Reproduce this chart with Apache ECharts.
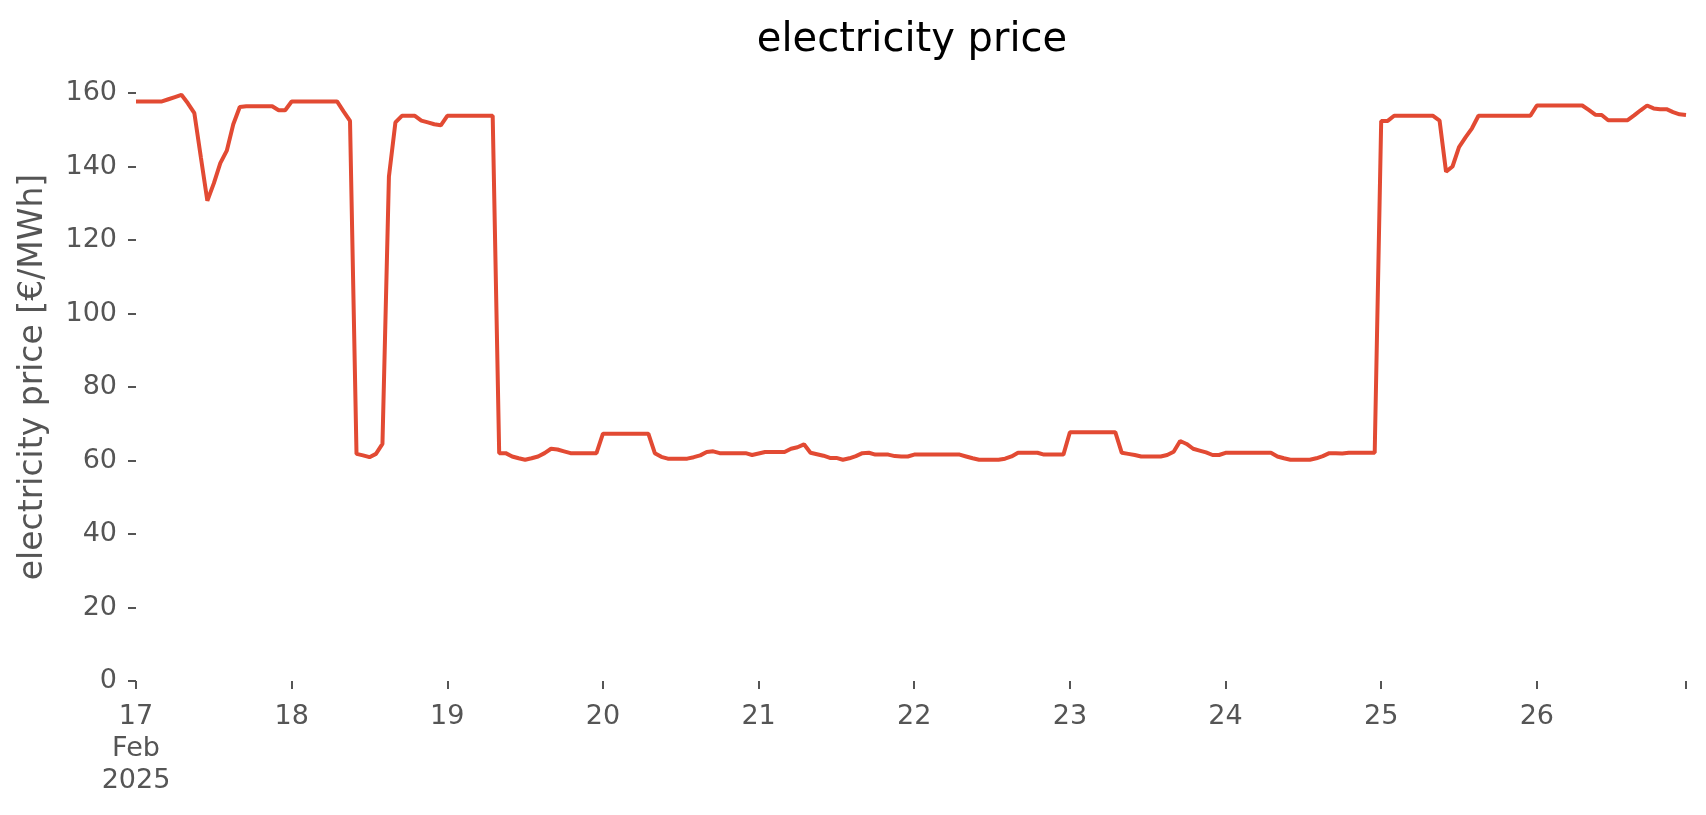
<!DOCTYPE html>
<html>
<head>
<meta charset="utf-8">
<script src="https://cdn.jsdelivr.net/npm/echarts@6/dist/echarts.min.js"></script>
<style>
  html, body { margin: 0; padding: 0; background: #ffffff; }
  #chart { width: 1706px; height: 815px; }
</style>
</head>
<body>
<div id="chart"></div>
<script>
// Hourly electricity price [€/MWh], 17 Feb 2025 00:00 to 26 Feb 2025 23:00
const dayLabels = ['17\nFeb\n2025', '18', '19', '20', '21', '22', '23', '24', '25', '26'];
const feb17 = [157.7,157.7,157.7,157.7,157.7,158.3,158.9,159.5,157.2,154.5,142.5,130.7,135.4,140.9,144.3,151.5,156.2,156.4,156.4,156.4,156.4,156.4,155.3,155.3];
const feb18 = [157.7,157.7,157.7,157.7,157.7,157.7,157.7,157.7,155.0,152.4,61.8,61.4,60.9,61.8,64.5,137.3,152.0,153.8,153.8,153.8,152.5,152.0,151.5,151.2];
const feb19 = [153.8,153.8,153.8,153.8,153.8,153.8,153.8,153.8,62.0,62.0,61.1,60.6,60.2,60.6,61.1,62.0,63.2,63.0,62.5,62.0,62.0,62.0,62.0,62.0];
const feb20 = [67.3,67.3,67.3,67.3,67.3,67.3,67.3,67.3,62.0,61.0,60.5,60.5,60.5,60.5,60.9,61.4,62.3,62.5,62.0,62.0,62.0,62.0,62.0,61.5];
const feb21 = [61.9,62.3,62.3,62.3,62.3,63.2,63.6,64.4,62.1,61.7,61.3,60.7,60.7,60.2,60.6,61.2,62.0,62.1,61.6,61.6,61.6,61.2,61.1,61.1];
const feb22 = [61.6,61.6,61.6,61.6,61.6,61.6,61.6,61.6,61.1,60.6,60.2,60.2,60.2,60.2,60.5,61.1,62.1,62.1,62.1,62.1,61.6,61.6,61.6,61.6];
const feb23 = [67.7,67.7,67.7,67.7,67.7,67.7,67.7,67.7,62.1,61.8,61.5,61.1,61.1,61.1,61.1,61.5,62.4,65.3,64.5,63.2,62.7,62.2,61.5,61.5];
const feb24 = [62.1,62.1,62.1,62.1,62.1,62.1,62.1,62.1,61.1,60.6,60.2,60.2,60.2,60.2,60.6,61.2,62.0,62.0,61.9,62.1,62.1,62.1,62.1,62.1];
const feb25 = [152.4,152.4,153.8,153.8,153.8,153.8,153.8,153.8,153.8,152.5,138.6,140.0,145.3,147.9,150.4,153.8,153.8,153.8,153.8,153.8,153.8,153.8,153.8,153.8];
const feb26 = [156.6,156.6,156.6,156.6,156.6,156.6,156.6,156.6,155.4,154.1,154.0,152.6,152.6,152.6,152.6,153.9,155.3,156.6,155.8,155.6,155.6,154.8,154.2,154.0];

const days = [feb17, feb18, feb19, feb20, feb21, feb22, feb23, feb24, feb25, feb26];
const seriesData = [];
days.forEach((vals, d) => {
  vals.forEach((v, h) => { seriesData.push([d * 24 + h, v]); });
});
const lastHour = seriesData.length - 1;

const chart = echarts.init(document.getElementById('chart'), null, { renderer: 'canvas' });
const FONT = 'DejaVu Sans';
chart.setOption({
  backgroundColor: '#ffffff',
  animation: false,
  title: {
    text: 'electricity price',
    left: 907,
    textAlign: 'center',
    top: 16,
    textStyle: { fontFamily: FONT, fontSize: 40, fontWeight: 'normal', color: '#000000' }
  },
  grid: { left: 136, right: 20, top: 93, bottom: 134, containLabel: false },
  xAxis: {
    type: 'value',
    min: 0,
    max: lastHour,
    interval: 24,
    axisLine: { show: false },
    splitLine: { show: false },
    axisTick: { show: true, length: 8, lineStyle: { color: '#555555', width: 2 } },
    axisLabel: {
      color: '#555555',
      fontFamily: FONT,
      fontSize: 27,
      lineHeight: 32,
      margin: 20,
      showMaxLabel: true,
      formatter: function (v) {
        if (v % 24 === 0) { return dayLabels[v / 24] || ''; }
        return '';
      }
    }
  },
  yAxis: {
    type: 'value',
    min: 0,
    max: 160,
    interval: 20,
    axisLine: { show: false },
    splitLine: { show: false },
    axisTick: { show: true, length: 8, lineStyle: { color: '#555555', width: 2 } },
    axisLabel: { color: '#555555', fontFamily: FONT, fontSize: 27, margin: 19, padding: [5, 0, 0, 0] },
    name: 'electricity price [€/MWh]',
    nameLocation: 'middle',
    nameRotate: 90,
    nameGap: 86,
    nameTextStyle: { color: '#555555', fontFamily: FONT, fontSize: 33, padding: [0, 0, 0, 20] }
  },
  series: [{
    type: 'line',
    data: seriesData,
    showSymbol: false,
    symbol: 'none',
    lineStyle: { color: '#E24A33', width: 4 },
    itemStyle: { color: '#E24A33' }
  }]
});
</script>
</body>
</html>
